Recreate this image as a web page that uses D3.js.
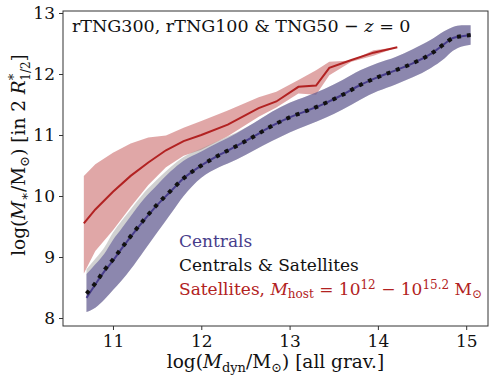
<!DOCTYPE html>
<html>
<head>
<meta charset="utf-8">
<script src="https://cdn.jsdelivr.net/npm/d3@7"></script>
<style>
  body { margin: 0; background: #fff; }
  text { font-family: "DejaVu Serif", serif; }
</style>
</head>
<body>
<div id="chart"></div>
<script>
// centrals (blue) + centrals & satellites (grey band, black dotted median)
const massC = [10.7, 10.8, 10.9, 11.0, 11.1, 11.2, 11.35, 11.5, 11.65, 11.8, 12.0, 12.2, 12.4, 12.6, 12.8, 13.0, 13.2, 13.4, 13.6, 13.8, 14.0, 14.2, 14.4, 14.6, 14.75, 14.85, 14.95, 15.05];
const cenMed = [8.33, 8.55, 8.76, 8.94, 9.14, 9.33, 9.60, 9.85, 10.07, 10.29, 10.50, 10.67, 10.82, 10.98, 11.15, 11.29, 11.40, 11.52, 11.66, 11.82, 11.95, 12.06, 12.18, 12.33, 12.49, 12.59, 12.62, 12.64];
const cenHi  = [8.72, 8.88, 9.05, 9.28, 9.47, 9.67, 9.95, 10.18, 10.40, 10.58, 10.73, 10.88, 11.03, 11.20, 11.38, 11.53, 11.64, 11.76, 11.90, 12.06, 12.18, 12.28, 12.41, 12.56, 12.70, 12.77, 12.80, 12.80];
const cenLo  = [8.10, 8.17, 8.30, 8.46, 8.62, 8.80, 9.10, 9.40, 9.70, 10.00, 10.30, 10.47, 10.60, 10.75, 10.90, 11.04, 11.16, 11.28, 11.42, 11.58, 11.72, 11.83, 11.95, 12.10, 12.25, 12.38, 12.45, 12.48];
const allMed = [8.40, 8.57, 8.78, 8.96, 9.15, 9.34, 9.61, 9.86, 10.08, 10.29, 10.50, 10.67, 10.82, 10.98, 11.15, 11.29, 11.40, 11.52, 11.66, 11.82, 11.95, 12.06, 12.18, 12.33, 12.49, 12.59, 12.62, 12.64];
const allHi  = [8.80, 8.97, 9.15, 9.40, 9.60, 9.78, 10.05, 10.27, 10.47, 10.64, 10.78, 10.91, 11.04, 11.20, 11.38, 11.53, 11.64, 11.76, 11.90, 12.06, 12.18, 12.28, 12.41, 12.56, 12.70, 12.77, 12.80, 12.80];
const allLo  = [8.10, 8.17, 8.30, 8.46, 8.62, 8.80, 9.10, 9.40, 9.70, 10.00, 10.30, 10.47, 10.60, 10.75, 10.90, 11.04, 11.16, 11.28, 11.42, 11.58, 11.72, 11.83, 11.95, 12.10, 12.25, 12.38, 12.45, 12.48];

// satellites (red)
const massS = [10.67, 10.8, 11.0, 11.2, 11.4, 11.6, 11.8, 12.0, 12.3, 12.65, 12.85, 13.1, 13.3, 13.45, 13.7, 13.95, 14.22];
const satMed = [9.55, 9.78, 10.07, 10.33, 10.55, 10.75, 10.90, 11.00, 11.17, 11.44, 11.55, 11.79, 11.81, 12.10, 12.23, 12.35, 12.44];
const satHi  = [10.33, 10.52, 10.71, 10.86, 10.96, 10.99, 11.12, 11.23, 11.40, 11.62, 11.71, 11.90, 12.06, 12.20, 12.22, 12.39, 12.44];
const satLo  = [8.73, 9.10, 9.44, 9.82, 10.18, 10.47, 10.66, 10.76, 10.98, 11.30, 11.45, 11.68, 11.66, 11.98, 12.20, 12.30, 12.44];

const xTicks = [11, 12, 13, 14, 15];
const yTicks = [8, 9, 10, 11, 12, 13];

const width = 499, height = 383;
const margin = { top: 11, right: 11, bottom: 57, left: 63 };
const innerWidth = width - margin.left - margin.right;
const innerHeight = height - margin.top - margin.bottom;

const blue = "#483d8b", red = "#b22222";

const svg = d3.select("#chart").append("svg")
  .attr("width", width).attr("height", height);

const g = svg.append("g").attr("transform", `translate(${margin.left},${margin.top})`);

const x = d3.scaleLinear().domain([10.434, 15.247]).range([0, innerWidth]);
const y = d3.scaleLinear().domain([7.869, 13.033]).range([innerHeight, 0]);

const rows = (xs, ...cols) => xs.map((v, i) => ({ x: v, c: cols.map(a => a[i]) }));
const cen = rows(massC, cenMed, cenLo, cenHi, allMed, allLo, allHi);
const sat = rows(massS, satMed, satLo, satHi);

const band = (lo, hi, curve) => d3.area().x(d => x(d.x)).y0(d => y(d.c[lo])).y1(d => y(d.c[hi])).curve(curve);
const line = (k, curve) => d3.line().x(d => x(d.x)).y(d => y(d.c[k])).curve(curve);

// bands
g.append("path").datum(sat).attr("d", band(1, 2, d3.curveLinear))
  .attr("fill", red).attr("fill-opacity", 0.4);
g.append("path").datum(cen).attr("d", band(4, 5, d3.curveMonotoneX))
  .attr("fill", "#999").attr("fill-opacity", 0.45);
g.append("path").datum(cen).attr("d", band(1, 2, d3.curveMonotoneX))
  .attr("fill", blue).attr("fill-opacity", 0.5);

// medians
g.append("path").datum(sat).attr("d", line(0, d3.curveLinear))
  .attr("fill", "none").attr("stroke", red).attr("stroke-width", 2);
g.append("path").datum(cen).attr("d", line(0, d3.curveMonotoneX))
  .attr("fill", "none").attr("stroke", blue).attr("stroke-width", 2);
g.append("path").datum(cen).attr("d", line(3, d3.curveMonotoneX))
  .attr("fill", "none").attr("stroke", "#111").attr("stroke-width", 4)
  .attr("stroke-dasharray", "4 6");

// axes
const xAxis = g.append("g").attr("transform", `translate(0,${innerHeight})`)
  .call(d3.axisBottom(x).tickValues(xTicks).tickSize(4).tickPadding(5).tickFormat(d3.format("d")));
const yAxis = g.append("g")
  .call(d3.axisLeft(y).tickValues(yTicks).tickSize(4).tickPadding(4).tickFormat(d3.format("d")));
[xAxis, yAxis].forEach(a => {
  a.select(".domain").remove();
  a.selectAll("text").attr("font-size", 17).attr("fill", "#111").style("font-family", "DejaVu Serif");
  a.selectAll("line").attr("stroke", "#333");
});
g.append("rect").attr("width", innerWidth).attr("height", innerHeight)
  .attr("fill", "none").attr("stroke", "#333").attr("stroke-width", 1);

// title
const title = g.append("text").attr("x", 9).attr("y", 21).attr("font-size", 17.5).attr("fill", "#111");
title.append("tspan").text("rTNG300, rTNG100 & TNG50 \u2212 ");
title.append("tspan").attr("font-style", "italic").text("z");
title.append("tspan").text(" = 0");

// legend texts
const lx = 179 - margin.left;
g.append("text").attr("x", lx).attr("y", 247 - margin.top)
  .attr("font-size", 17).attr("fill", blue).text("Centrals");
g.append("text").attr("x", lx).attr("y", 271 - margin.top)
  .attr("font-size", 17).attr("fill", "#111").text("Centrals & Satellites");
const sl = g.append("text").attr("x", lx).attr("y", 295 - margin.top)
  .attr("font-size", 17).attr("fill", red);
sl.append("tspan").text("Satellites, ");
sl.append("tspan").attr("font-style", "italic").text("M");
sl.append("tspan").attr("font-size", 12).attr("dy", 3).text("host");
sl.append("tspan").attr("dy", -3).text(" = 10");
sl.append("tspan").attr("font-size", 12).attr("dy", -6).text("12");
sl.append("tspan").attr("dy", 6).text(" \u2212 10");
sl.append("tspan").attr("font-size", 12).attr("dy", -6).text("15.2");
sl.append("tspan").attr("dy", 6).text(" M");
sl.append("tspan").attr("font-size", 12).attr("dy", 3).text("\u2299");

// x label
const xl = svg.append("text").attr("x", margin.left + innerWidth / 2).attr("y", 368)
  .attr("text-anchor", "middle").attr("font-size", 18.5).attr("fill", "#111");
xl.append("tspan").text("log(");
xl.append("tspan").attr("font-style", "italic").text("M");
xl.append("tspan").attr("font-size", 13).attr("dy", 4).text("dyn");
xl.append("tspan").attr("dy", -4).text("/M");
xl.append("tspan").attr("font-size", 13).attr("dy", 4).text("\u2299");
xl.append("tspan").attr("dy", -4).text(") [all grav.]");

// y label
const yl = svg.append("text").attr("transform", "translate(25,155) rotate(-90)")
  .attr("text-anchor", "middle").attr("font-size", 18.5).attr("fill", "#111");
yl.append("tspan").text("log(");
yl.append("tspan").attr("font-style", "italic").text("M");
yl.append("tspan").attr("font-size", 13).attr("dy", 4).text("\u2217");
yl.append("tspan").attr("dy", -4).text("/M");
yl.append("tspan").attr("font-size", 13).attr("dy", 4).text("\u2299");
yl.append("tspan").attr("dy", -4).text(") [in 2 ");
yl.append("tspan").attr("font-style", "italic").text("R");
yl.append("tspan").attr("font-size", 13).attr("dy", -7).text("*");
yl.append("tspan").attr("font-size", 12).attr("dx", -7).attr("dy", 12).text("1/2");
yl.append("tspan").attr("dy", -5).text("]");
</script>
</body>
</html>
